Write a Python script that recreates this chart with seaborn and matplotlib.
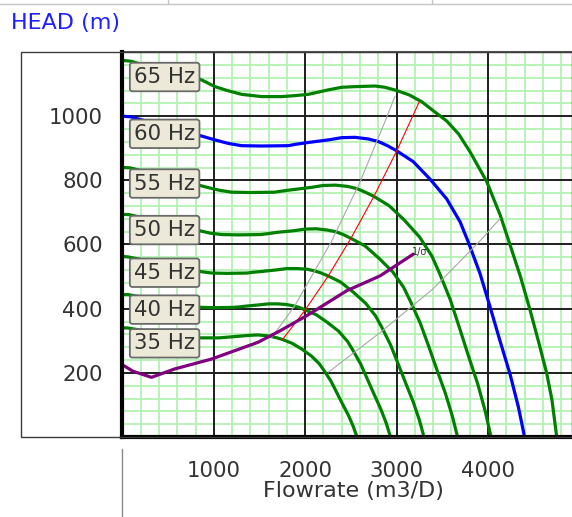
import matplotlib
matplotlib.use("Agg")
import matplotlib.pyplot as plt
from matplotlib.ticker import MultipleLocator, FixedLocator
from matplotlib.patches import Rectangle
from matplotlib.lines import Line2D
import seaborn as sns
import pandas as pd

# ---------------- data ----------------
flow_35 = [0, 53, 350, 506, 591, 676, 761, 889, 1059, 1101, 1187, 1314, 1399, 1485, 1569, 1633, 1692, 1751, 1857, 1963, 2070, 2155, 2207, 2282, 2346, 2410, 2474, 2527, 2567]
head_35 = [340, 340, 326, 319, 315, 311, 309, 309, 309, 310, 312, 315, 317, 318, 316, 313, 309, 304, 292, 274, 252, 228, 207, 174, 138, 102, 67, 32, 0]

flow_40 = [0, 60, 400, 578, 675, 773, 870, 1016, 1210, 1259, 1356, 1502, 1599, 1697, 1793, 1867, 1933, 2001, 2122, 2243, 2365, 2463, 2523, 2608, 2681, 2754, 2827, 2888, 2933]
head_40 = [444, 444, 426, 417, 412, 407, 404, 403, 404, 405, 408, 412, 415, 415, 413, 409, 404, 396, 381, 357, 330, 298, 270, 227, 180, 133, 87, 42, 0]

flow_45 = [0, 68, 450, 650, 760, 869, 979, 1143, 1361, 1416, 1526, 1690, 1799, 1909, 2018, 2100, 2175, 2251, 2387, 2524, 2661, 2771, 2838, 2934, 3017, 3098, 3181, 3249, 3300]
head_45 = [563, 561, 539, 528, 521, 515, 511, 510, 511, 513, 516, 521, 525, 525, 523, 518, 511, 502, 483, 452, 417, 377, 342, 287, 228, 169, 110, 53, 0]

flow_50 = [0, 75, 500, 723, 844, 966, 1088, 1270, 1513, 1573, 1695, 1878, 1999, 2121, 2242, 2333, 2417, 2501, 2653, 2804, 2957, 3078, 3153, 3260, 3352, 3443, 3534, 3610, 3667]
head_50 = [694, 693, 665, 651, 643, 635, 631, 630, 631, 633, 638, 643, 648, 649, 645, 640, 631, 619, 596, 558, 515, 466, 422, 354, 282, 208, 136, 65, 0]

flow_55 = [0, 83, 550, 795, 929, 1062, 1196, 1397, 1664, 1731, 1865, 2065, 2199, 2333, 2466, 2567, 2658, 2751, 2918, 3085, 3252, 3386, 3469, 3586, 3687, 3787, 3888, 3971, 4033]
head_55 = [840, 839, 805, 788, 778, 769, 763, 762, 763, 766, 771, 778, 784, 785, 781, 774, 763, 750, 721, 676, 623, 564, 511, 429, 341, 252, 165, 79, 0]

flow_60 = [0, 90, 600, 867, 1013, 1159, 1305, 1524, 1815, 1888, 2034, 2253, 2399, 2545, 2690, 2800, 2900, 3001, 3183, 3365, 3548, 3694, 3784, 3912, 4022, 4131, 4241, 4332, 4400]
head_60 = [1000, 998, 958, 938, 926, 915, 908, 907, 908, 912, 918, 926, 933, 934, 929, 921, 908, 892, 858, 804, 742, 671, 608, 510, 406, 300, 196, 94, 0]

flow_65 = [0, 97, 650, 867, 1013, 1159, 1305, 1524, 1743, 1888, 2034, 2253, 2399, 2545, 2764, 2873, 3001, 3140, 3275, 3410, 3548, 3680, 3803, 3986, 4133, 4242, 4355, 4460, 4555, 4642, 4700, 4752]
head_65 = [1174, 1171, 1124, 1113, 1092, 1079, 1068, 1061, 1061, 1064, 1068, 1082, 1090, 1092, 1094, 1090, 1080, 1066, 1045, 1015, 985, 944, 889, 796, 692, 598, 500, 396, 295, 199, 115, 0]

frequencies = ["35 Hz", "40 Hz", "45 Hz", "50 Hz", "55 Hz", "60 Hz", "65 Hz"]
label_heads = [292, 397, 512, 645, 790, 945, 1122]

system_flow = [0, 116, 318, 571, 976, 1482, 1725, 2016, 2455, 2818, 3183]
system_head = [225, 205, 186, 212, 243, 295, 331, 378, 456, 502, 570]

bep_flow = [1750, 2000, 2250, 2500, 2750, 3000, 3250]
bep_head = [303, 396, 501, 619, 749, 891, 1046]

left_limit_flow = [1633, 1888, 2290, 2600, 2874, 2982]
left_limit_head = [310, 410, 611, 795, 984, 1062]

right_limit_flow = [2253, 2818, 3400, 3912, 4133]
right_limit_head = [202, 325, 462, 611, 681]

x_ticks = [0, 1000, 2000, 3000, 4000]
x_tick_labels = ["", "1000", "2000", "3000", "4000"]
y_ticks = [0, 200, 400, 600, 800, 1000, 1200]
y_tick_labels = ["", "200", "400", "600", "800", "1000", ""]

# ---------------- build tables ----------------
curves = []
for name, fl, hd in zip(frequencies,
                        [flow_35, flow_40, flow_45, flow_50, flow_55, flow_60, flow_65],
                        [head_35, head_40, head_45, head_50, head_55, head_60, head_65]):
    for q, h in zip(fl, hd):
        curves.append({"freq": name, "flow": q, "head": h})
pump_df = pd.DataFrame(curves)

sys_df = pd.DataFrame({"flow": system_flow, "head": system_head})
bep_df = pd.DataFrame({"flow": bep_flow, "head": bep_head})
left_df = pd.DataFrame({"flow": left_limit_flow, "head": left_limit_head})
right_df = pd.DataFrame({"flow": right_limit_flow, "head": right_limit_head})

# ---------------- figure ----------------
sns.set_style("white")
plt.rcParams["font.family"] = ["DejaVu Sans"]

W, H = 572, 517
fig = plt.figure(figsize=(W / 100, H / 100), dpi=100)
fig.patch.set_facecolor("white")

ax_left_px, ax_top_px, ax_bot_px = 122.4, 52, 437
ax = fig.add_axes([ax_left_px / W, (H - ax_bot_px) / H, 1 - ax_left_px / W, (ax_bot_px - ax_top_px) / H])

palette = {f: "#008000" for f in frequencies}
palette["60 Hz"] = "#0000ff"

sns.lineplot(data=pump_df, x="flow", y="head", hue="freq", palette=palette,
             sort=False, estimator=None, units="freq", linewidth=2.3, legend=False,
             ax=ax, zorder=3)
sns.lineplot(data=left_df, x="flow", y="head", color="#a8a8a8", linewidth=0.8,
             sort=False, estimator=None, ax=ax, zorder=4)
sns.lineplot(data=right_df, x="flow", y="head", color="#a8a8a8", linewidth=0.8,
             sort=False, estimator=None, ax=ax, zorder=4)
sns.lineplot(data=bep_df, x="flow", y="head", color="#ff0000", linewidth=0.8,
             sort=False, estimator=None, ax=ax, zorder=5)
sns.lineplot(data=sys_df, x="flow", y="head", color="#800080", linewidth=2.3,
             sort=False, estimator=None, ax=ax, zorder=6)

ax.text(system_flow[-1] - 10, system_head[-1] + 8, "1/σ", fontsize=7, color="#333333",
        ha="left", va="center", zorder=7)

# frequency labels
for name, yv in zip(frequencies, label_heads):
    ax.text(128, yv, name, fontsize=15.3, color="#333333", ha="left", va="center", zorder=8,
            bbox=dict(boxstyle="round,pad=0.2,rounding_size=0.12", facecolor="#ece9d8",
                      edgecolor="#6a6a6a", linewidth=1.3))

ax.set_xlim(0, (W - ax_left_px) / 0.0914)
ax.set_ylim(0, 1200)

ax.xaxis.set_major_locator(FixedLocator(x_ticks))
ax.set_xticklabels(x_tick_labels)
ax.yaxis.set_major_locator(FixedLocator(y_ticks))
ax.set_yticklabels(y_tick_labels)
ax.xaxis.set_minor_locator(MultipleLocator(200))
ax.yaxis.set_minor_locator(MultipleLocator(40))

# minor grid (light green) below, major grid (black) above it
ax.set_axisbelow(True)
ax.grid(which="minor", color="#b2f2b2", linewidth=1.3)
ax.grid(which="major", visible=False)
for xv in x_ticks[1:]:
    ax.axvline(xv, color="#1e1e1e", linewidth=1.4, zorder=1)
for yv in y_ticks[1:-1]:
    ax.axhline(yv, color="#1e1e1e", linewidth=1.4, zorder=1)

ax.tick_params(axis="y", which="major", direction="out", length=10, width=2.6, color="black",
               labelsize=15.3, labelcolor="#333333", pad=4)
ax.tick_params(axis="x", which="major", direction="out", length=9, width=2.8, color="black",
               labelsize=15.3, labelcolor="#333333", pad=8)
ax.tick_params(which="minor", length=0)

for s in ["left", "bottom"]:
    ax.spines[s].set_linewidth(3)
    ax.spines[s].set_color("black")
    ax.spines[s].set_zorder(9)
ax.spines["top"].set_linewidth(1.5)
ax.spines["top"].set_color("#555555")
ax.spines["right"].set_visible(False)

ax.set_ylabel("")
ax.set_xlabel("Flowrate (m3/D)", fontsize=16, color="#333333")
ax.xaxis.set_label_coords((353.5 - ax_left_px) / (W - ax_left_px), (ax_bot_px - 491) / (ax_bot_px - ax_top_px))
ax.xaxis.label.set_va("center")

# outer frame around the value axis area
fig.patches.append(Rectangle((20.7 / W, (H - ax_bot_px) / H), 1 - 20.7 / W, (ax_bot_px - ax_top_px) / H,
                             transform=fig.transFigure, fill=False, edgecolor="#3c3c3c",
                             linewidth=1.0, zorder=0))
# thin line continuing the value axis below the chart
fig.lines.append(Line2D([ax_left_px / W, ax_left_px / W], [0, (H - 449) / H], transform=fig.transFigure,
                        color="#8a8a8a", linewidth=1.0))
# window lines at the top
fig.lines.append(Line2D([0, 1], [1 - 3.5 / H, 1 - 3.5 / H], transform=fig.transFigure,
                        color="#c4c4c4", linewidth=1.0))
for xp in [168.3, 431.7]:
    fig.lines.append(Line2D([xp / W, xp / W], [1 - 3.5 / H, 1], transform=fig.transFigure,
                            color="#c4c4c4", linewidth=1.0))

fig.text(11 / W, 1 - 22.5 / H, "HEAD (m)", fontsize=16, color="#2020ff", ha="left", va="center")

fig.savefig("out.png", dpi=100, facecolor="white")
